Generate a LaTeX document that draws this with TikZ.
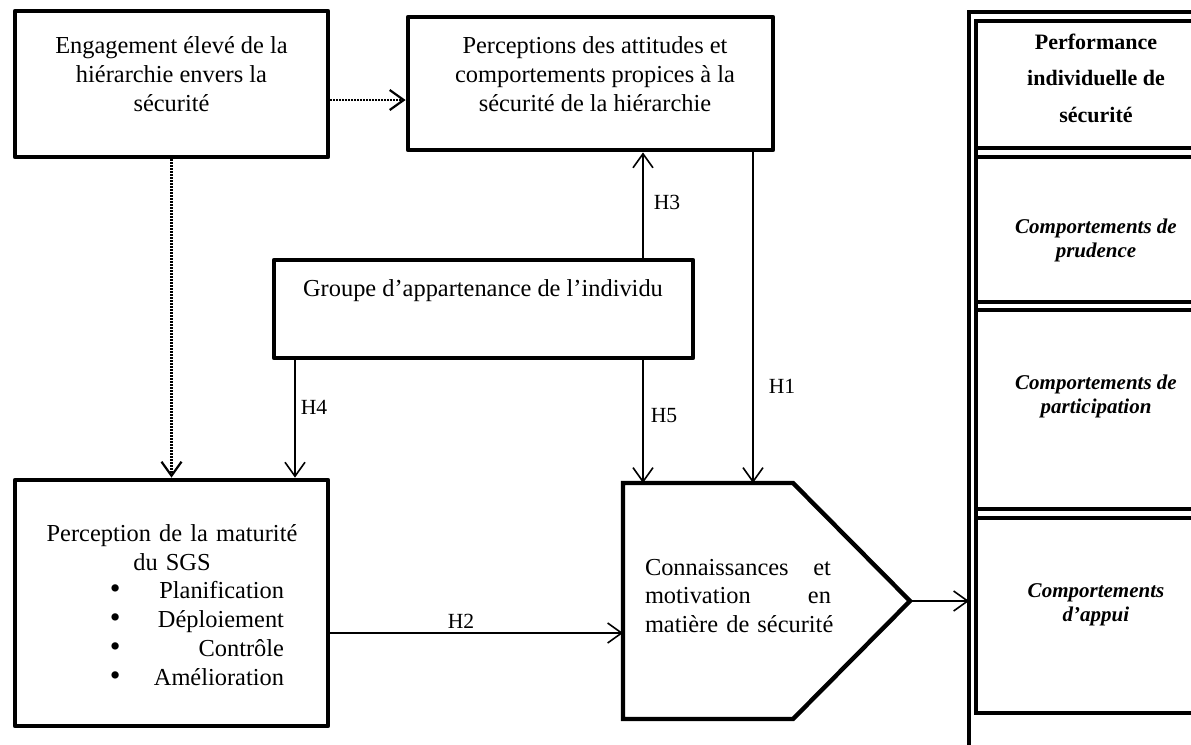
\documentclass[tikz,border=0pt]{standalone}
\usepackage{fontspec}
\usepackage{graphicx}
\setmainfont{Liberation Serif}
\usetikzlibrary{arrows.meta}
\newcommand{\mybul}{\scalebox{1.25}{\textbullet}}
\begin{document}
\begin{tikzpicture}[x=0.5pt,y=-0.5pt,
  box/.style={draw, line width=2.4pt, line join=round, inner sep=0pt},
  txt/.style={align=center, font=\fontsize{12.2}{14.4}\selectfont, inner sep=0pt},
  conn/.style={line width=0.8pt, -{Straight Barb[length=7pt,width=10pt]}},
  dotconn/.style={conn, line width=1.1pt, dash pattern=on 0.8pt off 0.7pt},
  hlab/.style={font=\fontsize{10.8}{12}\selectfont, inner sep=0pt},
  cell/.style={draw, line width=2pt, inner sep=0pt, minimum width=120pt},
  ctxt/.style={align=center, font=\fontsize{10.5}{12}\selectfont\bfseries\itshape, inner sep=0pt}]
\useasboundingbox (0,0) rectangle (1191,745);

% helper coordinates
\coordinate (x295) at (295,0);
\coordinate (x643) at (643,0);
\coordinate (x753) at (753,0);
\coordinate (y100) at (0,100);
\coordinate (y633) at (0,633);
\coordinate (outer) at (969,0);

% boxes
\node[box, minimum width=156.5pt, minimum height=73pt] (A) at (171.5,84) {};
\node[txt] (tA) at (171.5,74) {Engagement élevé de la\\hiérarchie envers la\\sécurité};

\node[box, minimum width=182.5pt, minimum height=66.5pt] (B) at (590.5,83.5) {};
\node[txt] (tB) at (595,74) {Perceptions des attitudes et\\comportements propices à la\\sécurité de la hiérarchie};

\node[box, minimum width=209.5pt, minimum height=49pt] (C) at (483.5,309) {};
\node[txt] (tC) at (483,291) {Groupe d’appartenance de l’individu};

\node[box, minimum width=156.5pt, minimum height=123pt] (D) at (171.5,603) {};
\node[txt, text width=112pt, align=left] (tD) at (172,605) {%
\makebox[112pt][c]{Perception de la maturité}\\
\makebox[112pt][c]{du SGS}\\
\hspace*{25pt}\mybul\hfill Planification\\
\hspace*{25pt}\mybul\hfill Déploiement\\
\hspace*{25pt}\mybul\hfill Contrôle\\
\hspace*{25pt}\mybul\hfill Amélioration};

% pentagon
\coordinate (Enw) at (623,483);
\coordinate (Ene) at (793,483);
\coordinate (Etip) at (910,601);
\coordinate (Ese) at (793,719);
\coordinate (Esw) at (623,719);
\draw[line width=2.2pt, line join=miter] (Enw) -- (Ene) -- (Etip) -- (Ese) -- (Esw) -- cycle;
\node[txt, text width=93pt, align=left] (tE) at (738,596) {Connaissances\hfill et\\motivation\hfill en\\\mbox{matière de sécurité}};

% connectors
\draw[dotconn] (A.east |- y100) -- (B.west |- y100);
\draw[dotconn] (A.south) -- (D.north);
\draw[conn] (C.north -| x643) -- (B.south -| x643);
\draw[conn] (C.south -| x295) -- (D.north -| x295);
\draw[conn] (C.south -| x643) -- (Enw -| x643);
\draw[conn] (B.south -| x753) -- (Enw -| x753);
\draw[conn] (D.east |- y633) -- (Enw |- y633);
\draw[conn] (Etip) -- (Etip -| outer);

\node[hlab] (h3) at (667,202) {H3};
\node[hlab] (h4) at (314,407) {H4};
\node[hlab] (h5) at (664,416) {H5};
\node[hlab] (h1) at (782,386) {H1};
\node[hlab] (h2) at (461,621) {H2};

% right column
\begin{scope}
\clip (0,0) rectangle (1191,745);
\draw[line width=2pt] (969,745) -- (969,12) -- (1220,12);
\draw[line width=2pt] (976,20) -- (976,714);
\node[cell, minimum height=63.5pt] (F1) at (1096,84.5) {};
\node[cell, minimum height=72.5pt] (F2) at (1096,229.5) {};
\node[cell, minimum height=99.5pt] (F3) at (1096,409.5) {};
\node[cell, minimum height=97.5pt] (F4) at (1096,615.5) {};
\end{scope}
\node[align=center, font=\fontsize{11}{18.25}\selectfont\bfseries, inner sep=0pt] (tF1) at (1096,78) {Performance\\individuelle de\\sécurité};
\node[ctxt] (tF2) at (1096,240.5) {Comportements de\\prudence};
\node[ctxt] (tF3) at (1096,396) {Comportements de\\participation};
\node[ctxt] (tF4) at (1096,604.5) {Comportements\\d’appui};
\end{tikzpicture}
\end{document}
